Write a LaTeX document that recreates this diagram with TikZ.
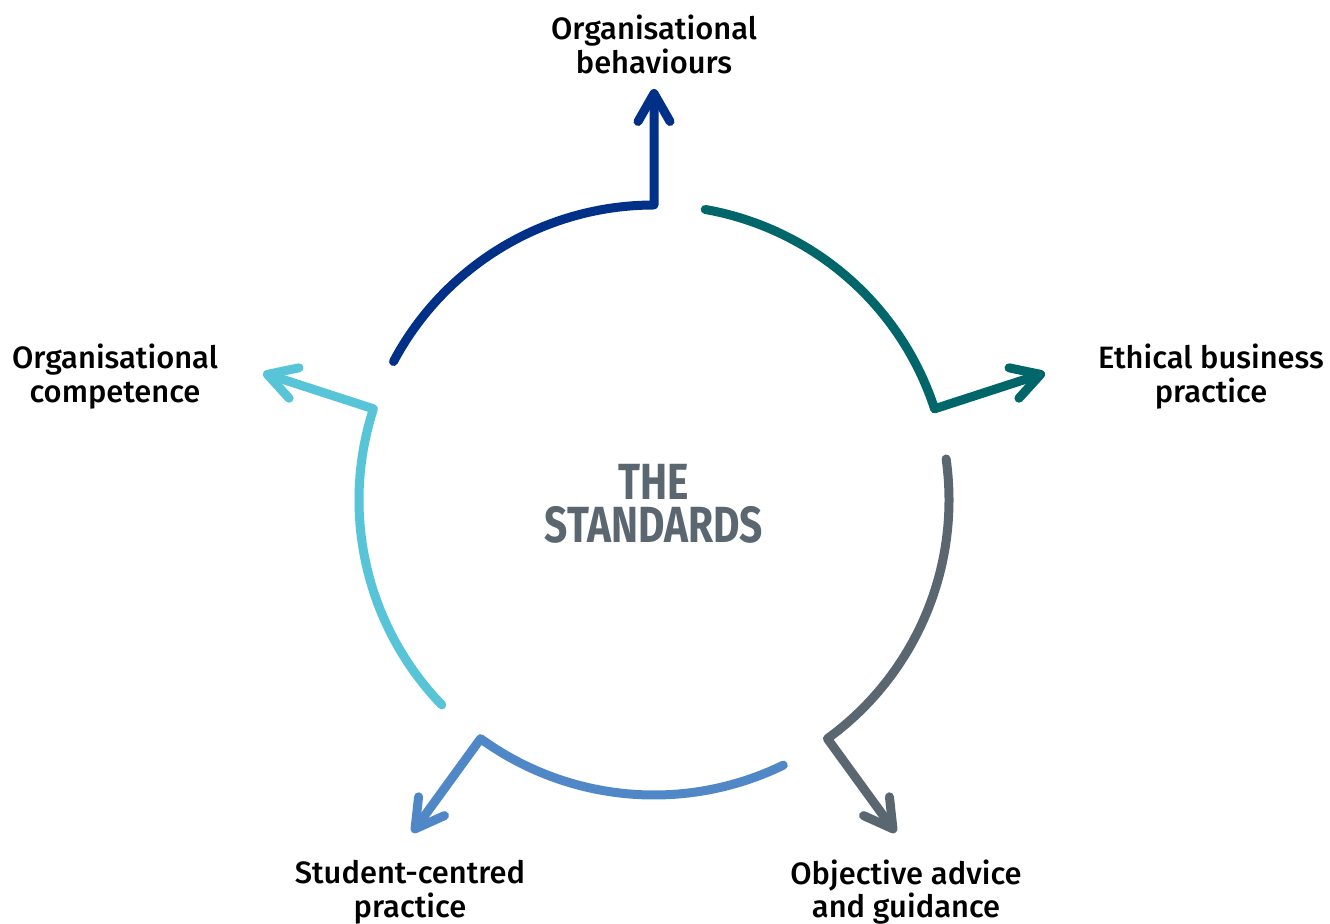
\documentclass[tikz,border=0pt]{standalone}
\usepackage{fontspec}
\usepackage{graphicx}
\setmainfont{Fira Sans}
\newfontfamily\labelfont{Fira Sans Medium}
\usetikzlibrary{arrows.meta}
\definecolor{navy}{HTML}{003087}
\definecolor{petrol}{HTML}{00666A}
\definecolor{slate}{HTML}{5B6770}
\definecolor{midblue}{HTML}{4F87C7}
\definecolor{skyblue}{HTML}{58C4D8}

\begin{document}
\begin{tikzpicture}[x=1bp, y=1bp,
    Arm/.style={line width=9bp, line cap=round, line join=round, color=#1,
        -{Straight Barb[length=28bp, width=32bp, round]}},
    Label/.style={font=\labelfont\fontsize{31}{34}\selectfont, align=center, text=black},
    Title/.style={inner sep=0pt, text=slate, font=\bfseries\fontsize{51}{44}\selectfont}]
        \useasboundingbox (0,0) rectangle (1330,923);
        % \draw[help lines, gray] (0,0) grid[step=100] (1330,923);
        \coordinate (C) at (654,423);
        \begin{scope}[shift={(C)}]
            \foreach \ang/\col/\name in {90/navy/ob, 18/petrol/eb, -54/slate/oa, -126/midblue/sc, 162/skyblue/oc}{
                \coordinate (\name-start) at (\ang+62:295);
                \coordinate (\name-tip) at (\ang:411);
                \draw[Arm=\col] (\name-start) arc[start angle=\ang+62, end angle=\ang, radius=295] -- (\name-tip);
            }
        \end{scope}

        \node[Label] (OB) at (654,879){Organisational\\behaviours};
        \node[Label] (EB) at (1211,546){Ethical business\\practice};
        \node[Label] (OA) at (906,31){Objective advice\\and guidance};
        \node[Label] (SC) at (410,31){Student-centred\\practice};
        \node[Label] (OC) at (115,546){Organisational\\competence};
        \node[Title, anchor=base] (THE) at (654,423){\scalebox{0.8}[1]{THE}};
        \node[Title, anchor=base] (STD) at (654,380){\scalebox{0.8}[1]{STANDARDS}};
\end{tikzpicture}
\end{document}
